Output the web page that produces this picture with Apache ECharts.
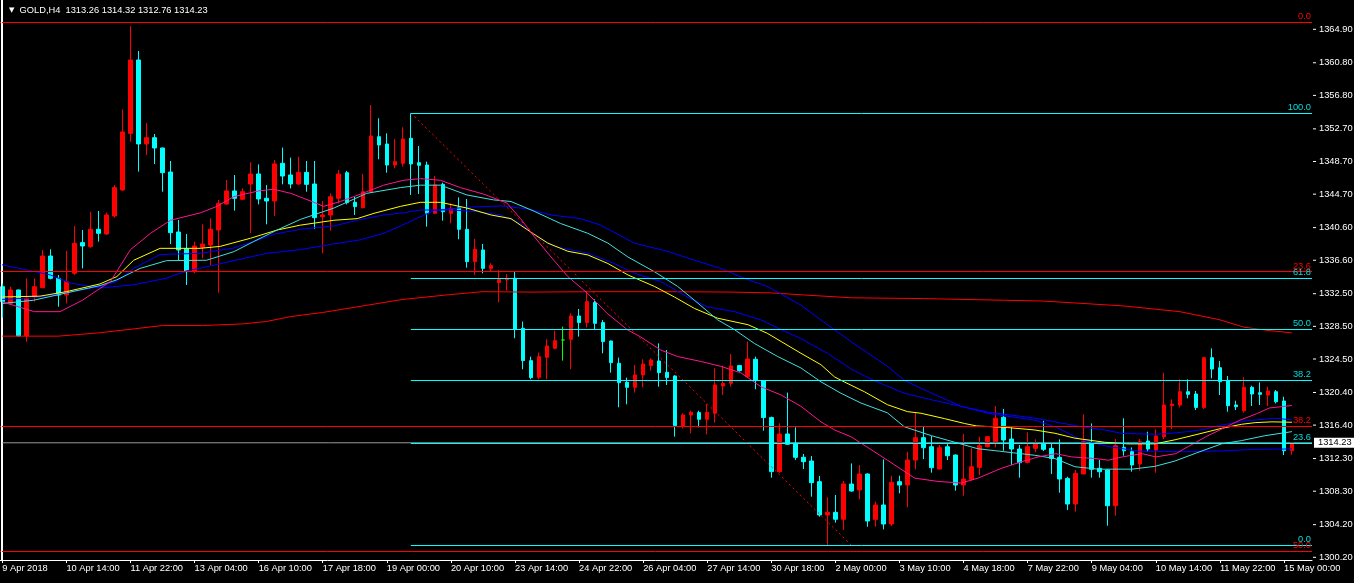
<!DOCTYPE html>
<html><head><meta charset="utf-8">
<script src="https://cdn.jsdelivr.net/npm/echarts@6/dist/echarts.min.js"></script>
<style>html,body{margin:0;padding:0;background:#000;}#c{width:1354px;height:583px;}</style>
</head><body><div id="c"></div>
<script>
const symbol = 'GOLD', timeframe = 'H4';
const dateLabels = ['9 Apr 2018','10 Apr 14:00','11 Apr 22:00','13 Apr 04:00','16 Apr 10:00','17 Apr 18:00','19 Apr 00:00','20 Apr 10:00','23 Apr 14:00','24 Apr 22:00','26 Apr 04:00','27 Apr 14:00','30 Apr 18:00','2 May 00:00','3 May 10:00','4 May 18:00','7 May 22:00','9 May 04:00','10 May 14:00','11 May 22:00','15 May 00:00'];
const priceTicks = [1300.20,1304.20,1308.30,1312.30,1316.40,1320.40,1324.50,1328.50,1332.50,1336.60,1340.60,1344.70,1348.70,1352.70,1356.80,1360.80,1364.90];
const yMin = 1299.87, yMax = 1368.49;

const opens = [1333.36,1331.32,1332.96,1327.32,1332.14,1333.24,1337.12,1334.38,1332.34,1335.00,
1338.76,1338.27,1340.39,1339.82,1342.02,1345.21,1352.15,1361.14,1350.85,1351.62,
1350.36,1347.41,1340.06,1338.02,1335.20,1338.18,1338.47,1340.31,1343.49,1345.09,
1344.07,1345.94,1347.17,1344.19,1343.86,1348.48,1347.05,1345.94,1347.37,1345.94,
1341.94,1342.15,1344.19,1347.33,1343.70,1343.04,1345.00,1351.74,1350.85,1348.27,
1348.48,1351.54,1348.56,1348.27,1342.35,1345.90,1342.35,1343.05,1340.39,1336.43,
1337.86,1335.61,1333.86,1334.18,1334.39,1328.26,1324.30,1322.26,1324.71,1325.81,
1326.83,1326.91,1329.77,1328.96,1331.41,1328.96,1326.71,1323.97,1321.64,1321.03,
1322.54,1323.69,1324.26,1322.87,1322.42,1316.29,1317.64,1317.93,1317.11,1317.85,
1321.20,1321.52,1323.69,1322.34,1324.46,1321.81,1317.32,1310.70,1315.31,1314.17,
1312.45,1312.00,1309.47,1305.39,1305.71,1304.86,1309.18,1308.45,1310.41,1304.85,
1306.61,1304.28,1309.47,1309.06,1312.12,1314.86,1313.75,1311.02,1313.75,1312.73,
1309.06,1309.75,1311.22,1313.75,1314.37,1317.35,1314.69,1313.47,1311.83,1313.55,
1314.08,1313.55,1312.45,1309.87,1306.73,1310.41,1314.29,1311.10,1310.90,1306.52,
1313.67,1313.14,1311.63,1314.45,1313.35,1314.98,1318.78,1318.86,1320.49,1320.21,
1318.57,1324.66,1323.43,1321.84,1318.86,1318.17,1321.03,1320.37,1320.08,1320.49,
1319.35,1313.26];
const highs = [1333.77,1333.36,1333.00,1334.38,1334.38,1337.86,1337.94,1334.79,1337.73,1340.80,
1340.31,1342.55,1342.64,1342.43,1345.82,1355.09,1365.30,1362.24,1353.38,1352.07,
1350.40,1348.76,1341.53,1339.82,1338.88,1341.00,1341.74,1343.98,1346.43,1347.05,
1345.41,1348.60,1348.35,1345.82,1348.89,1350.40,1349.17,1349.29,1348.76,1348.76,
1343.86,1344.80,1347.66,1347.54,1344.39,1347.17,1355.62,1354.00,1352.15,1351.42,
1352.89,1354.60,1350.60,1348.68,1346.92,1346.11,1343.58,1344.31,1344.11,1339.21,
1338.60,1336.23,1335.41,1334.92,1335.20,1329.08,1324.79,1325.28,1326.91,1327.98,
1328.47,1330.10,1330.63,1332.84,1331.82,1329.28,1326.75,1324.67,1322.22,1323.77,
1324.46,1324.58,1326.42,1325.61,1322.50,1317.85,1318.17,1318.17,1318.99,1323.36,
1323.69,1325.12,1323.77,1326.63,1324.79,1321.85,1317.44,1316.62,1320.38,1316.13,
1312.86,1312.62,1310.17,1307.55,1307.84,1309.55,1311.71,1311.51,1310.49,1307.01,
1312.20,1310.20,1310.20,1313.14,1317.92,1316.20,1315.06,1313.96,1314.16,1312.81,
1315.31,1313.55,1314.98,1315.00,1318.74,1318.37,1316.12,1313.96,1315.51,1314.65,
1316.94,1314.16,1314.65,1310.08,1310.90,1317.72,1316.61,1312.12,1310.98,1314.69,
1317.23,1313.67,1314.69,1315.59,1315.88,1322.82,1319.55,1322.00,1322.00,1320.58,
1324.78,1325.80,1324.25,1322.41,1319.39,1322.25,1321.23,1321.64,1321.11,1320.70,
1319.88,1314.32];
const lows = [1329.57,1331.12,1327.24,1326.62,1331.53,1333.16,1334.26,1330.91,1331.32,1334.79,
1335.61,1338.14,1338.88,1339.70,1341.82,1345.09,1351.13,1347.46,1349.50,1348.40,
1345.00,1338.59,1336.63,1333.57,1335.00,1336.84,1336.02,1332.63,1343.37,1342.68,
1343.98,1339.90,1343.45,1341.00,1342.02,1345.90,1345.41,1345.82,1345.00,1340.43,
1337.45,1340.23,1343.57,1343.45,1342.15,1342.96,1344.88,1348.97,1347.33,1347.86,
1348.07,1344.60,1344.72,1340.72,1342.27,1341.45,1341.13,1339.17,1335.69,1334.80,
1335.00,1335.20,1331.45,1332.88,1327.04,1323.24,1322.01,1322.01,1322.01,1325.69,
1324.30,1323.24,1327.24,1328.34,1328.14,1325.20,1322.83,1318.58,1318.95,1320.38,
1321.03,1323.07,1321.11,1321.32,1314.99,1316.00,1315.39,1316.13,1315.27,1316.70,
1320.09,1321.11,1322.95,1322.26,1320.79,1315.72,1309.96,1310.57,1313.97,1312.13,
1311.02,1307.63,1305.18,1301.59,1304.45,1303.55,1308.24,1307.30,1303.95,1303.95,
1303.62,1304.03,1308.04,1306.32,1310.98,1312.24,1310.57,1310.98,1312.12,1308.36,
1307.75,1309.59,1310.28,1313.67,1313.67,1313.26,1311.51,1309.96,1311.71,1313.06,
1313.22,1310.41,1308.12,1305.99,1305.79,1310.41,1309.96,1309.96,1304.07,1305.30,
1312.65,1310.69,1310.81,1313.14,1310.57,1314.69,1315.92,1318.57,1319.68,1318.25,
1318.37,1322.13,1320.09,1318.04,1318.25,1317.92,1318.74,1318.86,1318.74,1319.06,
1312.73,1312.76];
const closes = [1331.53,1332.96,1327.32,1331.93,1333.36,1337.12,1334.38,1332.34,1333.98,1338.67,
1338.35,1340.39,1339.90,1342.15,1345.50,1352.32,1361.14,1350.85,1351.62,1350.36,
1347.33,1339.98,1337.86,1335.20,1338.35,1338.59,1340.39,1343.57,1345.09,1344.19,
1345.00,1347.17,1344.11,1343.86,1348.40,1346.92,1345.94,1347.37,1345.90,1341.82,
1342.15,1344.39,1347.17,1343.66,1343.17,1345.00,1351.83,1350.72,1348.27,1348.68,
1351.46,1348.40,1348.23,1342.35,1345.82,1342.55,1342.97,1340.39,1336.43,1337.94,
1335.61,1335.94,1334.27,1334.31,1328.14,1324.30,1322.22,1324.79,1326.10,1326.75,
1326.83,1329.77,1328.96,1331.53,1328.87,1326.63,1324.05,1321.60,1321.03,1322.54,
1323.89,1324.38,1322.83,1322.22,1316.33,1317.64,1317.97,1317.11,1317.97,1321.32,
1321.52,1323.65,1323.07,1324.50,1321.85,1317.32,1310.70,1315.31,1314.05,1312.45,
1311.92,1309.35,1305.39,1305.71,1304.86,1309.19,1308.32,1310.41,1304.65,1306.61,
1304.28,1309.38,1309.06,1312.12,1314.86,1313.63,1311.18,1313.63,1312.65,1309.06,
1309.79,1311.30,1313.88,1314.98,1317.23,1314.57,1313.47,1311.79,1313.75,1314.08,
1313.43,1312.32,1309.79,1306.73,1310.49,1314.37,1310.98,1310.69,1306.52,1313.88,
1313.26,1311.51,1314.37,1313.47,1315.06,1318.86,1318.98,1320.49,1320.17,1318.57,
1324.66,1323.27,1321.72,1318.78,1318.66,1321.03,1320.21,1320.17,1320.58,1319.27,
1313.26,1314.23];

// moving averages as [bar, price]
const pinkMA = [[0,1331.5],[4,1330.3],[7.2,1330.3],[10,1331.7],[13.5,1334.0],[16,1337.9],[18.5,1339.9],[21,1341.5],[24.7,1342.4],[26.8,1343.2],[28.9,1344.4],[32,1345.1],[33.9,1345.3],[36,1344.8],[38.9,1343.7],[40.1,1343.2],[42.2,1343.8],[43.9,1344.4],[45.5,1345.0],[47.6,1345.8],[50.1,1346.4],[52.2,1346.6],[54.7,1346.4],[57.2,1345.5],[60.1,1344.7],[63,1343.6],[64.7,1341.7],[66.4,1339.5],[68.5,1337.0],[70.6,1334.6],[73,1332.6],[75.5,1330.1],[78,1328.1],[79.7,1327.2],[82.2,1325.6],[84.3,1324.8],[87.2,1324.2],[89.7,1323.6],[92.2,1322.8],[94.7,1321.1],[97.2,1320.1],[99.7,1318.7],[102.2,1316.8],[103.9,1315.8],[106,1314.95],[110.5,1312.1],[113.9,1309.9],[116.8,1309.5],[119.7,1309.3],[121.8,1309.9],[124.7,1311.1],[127.2,1311.9],[129.3,1312.5],[131.5,1312.9],[133.5,1312.5],[136.4,1312.3],[138.1,1312.1],[139.8,1312.5],[142.3,1312.9],[144,1312.5],[146.5,1312.9],[148.1,1313.8],[150.3,1315.0],[152.4,1316.0],[154.5,1317.0],[156.6,1317.8],[158.2,1318.5],[161,1318.8]];
const cyanMA = [[0,1331.3],[3.9,1331.7],[8,1332.6],[12.2,1333.5],[14.3,1334.2],[17.2,1335.6],[20.5,1336.55],[25.5,1336.6],[28.9,1337.65],[31.4,1338.9],[34.3,1340.3],[37.2,1341.6],[41.4,1343.0],[45.5,1344.8],[49.7,1345.5],[52.2,1345.8],[54.7,1345.8],[58,1344.6],[61.3,1344.0],[63.5,1343.8],[66.4,1342.6],[69.7,1341.1],[73.1,1339.9],[75.6,1338.7],[78.1,1337.0],[81.4,1335.2],[84.3,1333.4],[86.4,1331.7],[89.3,1329.3],[91.4,1328.1],[93.9,1326.4],[96.8,1324.8],[99.7,1323.4],[102.2,1321.7],[104.7,1320.3],[107.2,1319.1],[110.5,1317.9],[112.6,1316.2],[116,1315.1],[118.9,1314.3],[121.8,1313.5],[124.5,1313.2],[128.9,1312.7],[131.4,1312.3],[133.9,1311.3],[136.8,1311.0],[141,1311.0],[143.9,1311.35],[146.4,1312.0],[149.1,1313.0],[152.2,1314.1],[154.7,1314.5],[157.6,1315.1],[161,1315.6]];
const yellowMA = [[0,1332.1],[4.7,1332.2],[8,1332.75],[12.2,1333.7],[14.3,1334.6],[16.4,1336.6],[19.7,1338.06],[24.7,1338.06],[27.2,1338.3],[31,1339.3],[34.3,1340.3],[37.2,1340.9],[41.4,1341.5],[44.3,1341.7],[46.4,1342.35],[49.7,1343.2],[52.2,1343.7],[54.7,1343.7],[58,1343.0],[61,1342.15],[63.5,1341.7],[65.6,1340.3],[68.1,1338.7],[70.6,1337.7],[73.1,1337.25],[75.6,1336.2],[78.1,1334.8],[81.4,1333.4],[83.9,1332.1],[86.4,1330.7],[89.3,1329.5],[93.1,1328.7],[95.5,1327.65],[99.7,1325.2],[102.2,1323.8],[103.9,1322.3],[105.1,1321.7],[107.6,1320.5],[110.5,1318.9],[113,1318.05],[114.7,1317.85],[117.6,1317.2],[120.1,1316.6],[121.6,1316.3],[125.5,1316.1],[128.9,1315.8],[131.4,1315.4],[133.9,1314.8],[137.6,1314.3],[140.5,1314.1],[143.9,1314.1],[146.4,1314.6],[148.9,1315.2],[152.2,1316.0],[154.7,1316.5],[156.4,1316.7],[158.5,1316.8],[161,1316.75]];
const blueSlowMA = [[-0.3,1336.1],[6,1334.8],[8.5,1333.8],[12.2,1333.2],[16.4,1333.6],[20.5,1334.4],[23,1335.3],[25.5,1335.8],[28.9,1336.55],[33,1337.45],[37.2,1337.9],[41.4,1338.6],[44.7,1339.1],[47.6,1339.9],[49.7,1340.8],[53.9,1342.7],[58,1343.1],[62.2,1343.25],[65.6,1342.9],[68.5,1342.15],[72.2,1341.7],[74.7,1340.9],[78.9,1338.7],[83,1337.7],[86.4,1336.6],[89.7,1335.6],[92.6,1334.4],[95.5,1333.4],[99.7,1331.1],[103,1328.7],[106,1326.6],[110.5,1323.6],[112.6,1321.9],[114.7,1320.9],[119.7,1318.7],[123,1318.0],[128.9,1317.25],[131.4,1316.8],[134.7,1316.2],[137.6,1315.8],[139.7,1315.4],[143.9,1315.27],[146,1315.4],[148,1315.6],[150.1,1315.9],[152.2,1316.4],[155.5,1316.95],[158.9,1317.23],[161,1317.05]];
const blueFastMA = [[0,1331.8],[4,1332.0],[8,1332.6],[12.2,1333.4],[14.3,1334.0],[16.4,1335.6],[19.7,1337.3],[24.7,1337.45],[28.9,1338.1],[31.4,1338.9],[34,1339.8],[37.2,1340.4],[41.4,1340.8],[44.3,1341.5],[47.6,1342.15],[50,1342.4],[52.2,1342.76],[56,1342.76],[59.3,1342.56],[62.2,1342.15],[64.7,1341.1],[66.4,1339.7],[68.9,1338.3],[73.1,1337.45],[76.4,1336.2],[78.9,1335.0],[82.2,1334.0],[85.5,1332.1],[88,1330.9],[91.4,1330.3],[94.7,1329.3],[96.8,1328.3],[99.7,1327.0],[103,1325.2],[106,1323.25],[108.7,1321.9],[112.6,1320.3],[116,1319.5],[119.7,1318.7],[123,1317.85],[128.9,1317.0],[131.4,1316.2],[134.7,1314.6],[138,1313.8],[141.8,1313.2],[148,1313.15],[152.2,1313.23],[156.4,1313.43],[161,1313.48]];
const redMA = [[0,1327.3],[7,1327.3],[12,1327.7],[16.5,1328.2],[20,1328.6],[25,1328.6],[30,1328.8],[33,1329.1],[36,1329.7],[40,1330.2],[45,1331.0],[50,1331.8],[56,1332.4],[60,1332.75],[66,1332.7],[75,1332.75],[83,1332.75],[91,1332.7],[96,1332.6],[100,1332.35],[106,1332.0],[115,1331.9],[125,1331.7],[130,1331.6],[140,1331.0],[147,1330.3],[152,1329.3],[155,1328.4],[158,1328.0],[161,1327.7]];

// Fibonacci levels
const redFib = [{label:'0.0', price:1365.79},{label:'23.6', price:1335.20},{label:'38.2', price:1316.28},{label:'50.0', price:1300.98}];
const cyanFibAnchors = [[51,1354.64],[106,1301.67]];
const cyanFib = [{label:'100.0', price:1354.64},{label:'61.8', price:1334.40},{label:'50.0', price:1328.15},{label:'38.2', price:1321.90},{label:'23.6', price:1314.17},{label:'0.0', price:1301.67}];

const N = 164;
const cats = Array.from({length: N}, (_, i) => i);
const candleData = opens.map((o, i) => [o, closes[i], lows[i], highs[i]]);
const last = closes.length - 1;
const FONT = 'Liberation Sans';
const FS = 9.3;

function maSeries(data, color) {
  return {type:'line', xAxisIndex:1, yAxisIndex:0, data:data, showSymbol:false, symbol:'none', silent:true, z:3,
    lineStyle:{color:color, width:1}};
}

const chart = echarts.init(document.getElementById('c'), null, {renderer:'canvas'});
chart.setOption({
  backgroundColor:'#000',
  animation:false,
  title:{
    text:'{t|▼}  ' + symbol + ',' + timeframe + '  ' + [opens[last], highs[last], lows[last], closes[last]].map(v => v.toFixed(2)).join(' '),
    left:4, top:1,
    textStyle:{color:'#fff', fontSize:FS, fontFamily:FONT, fontWeight:'normal', rich:{t:{fontSize:7, color:'#fff', fontFamily:'DejaVu Sans'}}}
  },
  graphic:[{type:'line', silent:true, z:101, shape:{x1:1.5, y1:0, x2:1.5, y2:560}, style:{stroke:'#fff', lineWidth:1}}],
  grid:{left:-1.7, right:42, top:0, bottom:23, containLabel:false, outerBoundsMode:'none'},
  xAxis:[
    {type:'category', data:cats, boundaryGap:true,
     axisLine:{show:true, lineStyle:{color:'#fff', width:1}},
     axisTick:{show:true, interval:7, alignWithLabel:true, length:3, lineStyle:{color:'#fff'}},
     axisLabel:{interval:7, formatter:(v, i) => dateLabels[i / 8] || '', color:'#fff', fontSize:FS, fontFamily:FONT, align:'left', margin:4},
     splitLine:{show:false}},
    {type:'value', min:-0.5, max:N - 0.5, show:false, splitLine:{show:false}, axisTick:{show:false}, axisLine:{show:false}}
  ],
  yAxis:[
    {type:'value', position:'right', min:yMin, max:yMax, splitLine:{show:false}, minorTick:{show:false}, minorSplitLine:{show:false},
     axisLine:{show:true, lineStyle:{color:'#fff'}},
     axisTick:{show:false},
     axisLabel:{customValues:priceTicks, formatter:v => '{tk| }{sp| }' + v.toFixed(2), color:'#fff', fontSize:FS, fontFamily:FONT, margin:1,
       rich:{tk:{width:3, height:1, lineHeight:1, backgroundColor:'#fff', fontSize:1, verticalAlign:'middle'}, sp:{width:3, fontSize:1}}}}
  ],
  series:[
    {type:'candlestick', xAxisIndex:0, yAxisIndex:0, data:candleData, barWidth:4, z:2,
     itemStyle:{color:'#ff0000', color0:'#00ffff', borderColor:'#ff0000', borderColor0:'#00ffff', borderColorDoji:'#00ff00', borderWidth:1},
     markLine:{silent:true, symbol:['none','none'], animation:false,
       lineStyle:{color:'#ff0000', width:1, type:'solid'},
       label:{position:'insideEndTop', formatter:'{b}', color:'#ff0000', fontSize:FS, fontFamily:FONT, distance:1},
       data: redFib.map(f => ({name:f.label, yAxis:f.price}))}},
    maSeries(redMA, '#ff0000'),
    maSeries(blueSlowMA, '#0000ff'),
    maSeries(blueFastMA, '#0000ff'),
    maSeries(yellowMA, '#ffff00'),
    maSeries(cyanMA, '#40e0e0'),
    maSeries(pinkMA, '#ff1493'),
    {type:'line', xAxisIndex:1, yAxisIndex:0, data:[[0, closes[last]], [N - 0.5, closes[last]]], showSymbol:false, symbol:'none', silent:true, z:1,
     lineStyle:{color:'#9a9a9a', width:1},
     endLabel:{show:true, formatter:() => closes[last].toFixed(2), backgroundColor:'#fff', color:'#000', fontSize:FS, fontFamily:FONT, padding:[1,4,0,4], distance:2}},
    {type:'line', xAxisIndex:1, yAxisIndex:0, data:cyanFibAnchors, showSymbol:false, symbol:'none', silent:true, z:4,
     lineStyle:{color:'#ff0000', width:1, type:[2,3]},
     markLine:{silent:true, symbol:['none','none'], animation:false,
       lineStyle:{color:'#00ffff', width:1, type:'solid'},
       label:{position:'insideEndTop', formatter:'{b}', color:'#00dcdc', fontSize:FS, fontFamily:FONT, distance:1},
       data: cyanFib.map(f => [{name:f.label, coord:[cyanFibAnchors[0][0], f.price]}, {coord:[N - 0.5, f.price]}])}}
  ]
});
</script></body></html>
